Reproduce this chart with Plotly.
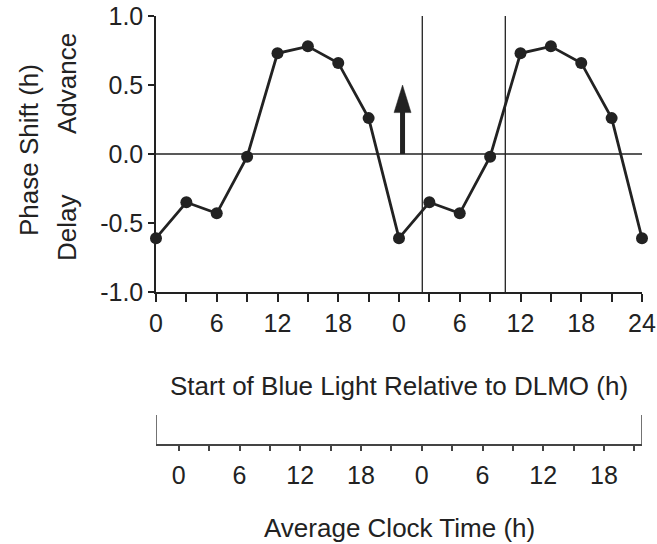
import plotly.graph_objects as go

# Phase response to blue light, double-plotted over two circadian cycles
hours_rel_dlmo = [0, 3, 6, 9, 12, 15, 18, 21, 24, 27, 30, 33, 36, 39, 42, 45, 48]
phase_shift = [-0.61, -0.35, -0.43, -0.02, 0.73, 0.78, 0.66, 0.26, -0.61,
               -0.35, -0.43, -0.02, 0.73, 0.78, 0.66, 0.26, -0.61]

top_tickvals = list(range(0, 49, 3))
top_ticktext = ["0", "", "6", "", "12", "", "18", "", "0", "", "6", "", "12", "", "18", "", "24"]

y_tickvals = [-1.0, -0.5, 0.0, 0.5, 1.0]
y_ticktext = ["-1.0", "-0.5", "0.0", "0.5", "1.0"]

# clock-time axis (hours of the clock), offset from DLMO-relative hours
clock_offset = 2.25
clock_tickvals = list(range(0, 46, 3))
clock_ticktext = ["0", "", "6", "", "12", "", "18", "", "0", "", "6", "", "12", "", "18", ""]

# reference markers (DLMO-relative hours)
sleep_lines = [26.3, 34.5]
arrow_x = 24.35
arrow_top = 0.5

W, H = 657, 544
ML, MR, MT, MB = 156, 15, 16, 84
PW = W - ML - MR
PH = H - MT - MB
INK = "#222222"
FONT = "Liberation Sans, Arial, Helvetica, sans-serif"
TICK_SIZE = 25
TITLE_SIZE = 26


def px(p):
    return (p - ML) / PW


def py(p):
    return (H - MB - p) / PH


fig = go.Figure()
fig.add_trace(go.Scatter(
    x=hours_rel_dlmo, y=phase_shift, mode="lines+markers",
    line=dict(color=INK, width=2.8),
    marker=dict(color=INK, size=12),
    cliponaxis=False, showlegend=False, hoverinfo="skip",
))
# carrier trace for the clock-time axis
fig.add_trace(go.Scatter(x=[None], y=[None], xaxis="x2", yaxis="y",
                         showlegend=False, hoverinfo="skip"))

shapes = []
# zero line
shapes.append(dict(type="line", xref="x", yref="y", x0=0, x1=48.3, y0=0, y1=0,
                   line=dict(color=INK, width=1.3), layer="below"))
for xv in sleep_lines:
    shapes.append(dict(type="line", xref="x", yref="y", x0=xv, x1=xv, y0=-1, y1=1,
                       line=dict(color=INK, width=1.3), layer="below"))
# arrow: shaft and head
head_h = 0.2
head_w = 0.84
shapes.append(dict(type="line", xref="x", yref="y", x0=arrow_x, x1=arrow_x,
                   y0=0, y1=arrow_top - head_h + 0.01, line=dict(color=INK, width=5)))
shapes.append(dict(type="path", xref="x", yref="y",
                   path=f"M {arrow_x - head_w},{arrow_top - head_h} L {arrow_x + head_w},{arrow_top - head_h} L {arrow_x},{arrow_top} Z",
                   fillcolor=INK, line=dict(color=INK, width=0.5)))
# end caps of the clock-time axis
for xv in [0, 48]:
    shapes.append(dict(type="line", xref="x", yref="paper", x0=xv, x1=xv,
                       y0=py(445), y1=py(415), line=dict(color="#444444", width=1.5)))

annotations = [
    dict(text="Phase Shift (h)", x=px(29), y=py(150), textangle=-90),
    dict(text="Advance", x=px(67), y=py(84), textangle=-90),
    dict(text="Delay", x=px(67), y=py(228), textangle=-90),
    dict(text="Start of Blue Light Relative to DLMO (h)", x=px(399), y=py(386)),
    dict(text="Average Clock Time (h)", x=px(399), y=py(528)),
]
for a in annotations:
    a.update(xref="paper", yref="paper", xanchor="center", yanchor="middle",
             showarrow=False, font=dict(family=FONT, size=TITLE_SIZE, color=INK))

tickfont = dict(size=TICK_SIZE, color=INK, family=FONT)
fig.update_layout(
    width=W, height=H,
    margin=dict(l=ML, r=MR, t=MT, b=MB, autoexpand=False),
    paper_bgcolor="white", plot_bgcolor="white",
    font=dict(family=FONT, color=INK),
    shapes=shapes, annotations=annotations,
    xaxis=dict(range=[0, 48], anchor="y", tickvals=top_tickvals, ticktext=top_ticktext,
               ticks="outside", ticklen=8, tickwidth=1.5, tickcolor=INK, automargin=False,
               showline=True, linecolor=INK, linewidth=1.5, showgrid=False, zeroline=False,
               tickfont=tickfont),
    xaxis2=dict(range=[-clock_offset, 48 - clock_offset], overlaying="x", anchor="free",
                position=py(445), side="bottom", automargin=False,
                tickvals=clock_tickvals, ticktext=clock_ticktext,
                ticks="outside", ticklen=5, tickwidth=1.5, tickcolor="#444444",
                showline=True, linecolor="#444444", linewidth=1.5, showgrid=False,
                zeroline=False, tickfont=tickfont, ticklabelstandoff=3),
    yaxis=dict(range=[-1, 1], domain=[py(292), 1.0], tickvals=y_tickvals, ticktext=y_ticktext,
               ticks="outside", ticklen=6, tickwidth=1.5, tickcolor=INK, automargin=False,
               showline=True, linecolor=INK, linewidth=1.5, showgrid=False, zeroline=False,
               tickfont=tickfont),
)

fig.write_html("out.html")
